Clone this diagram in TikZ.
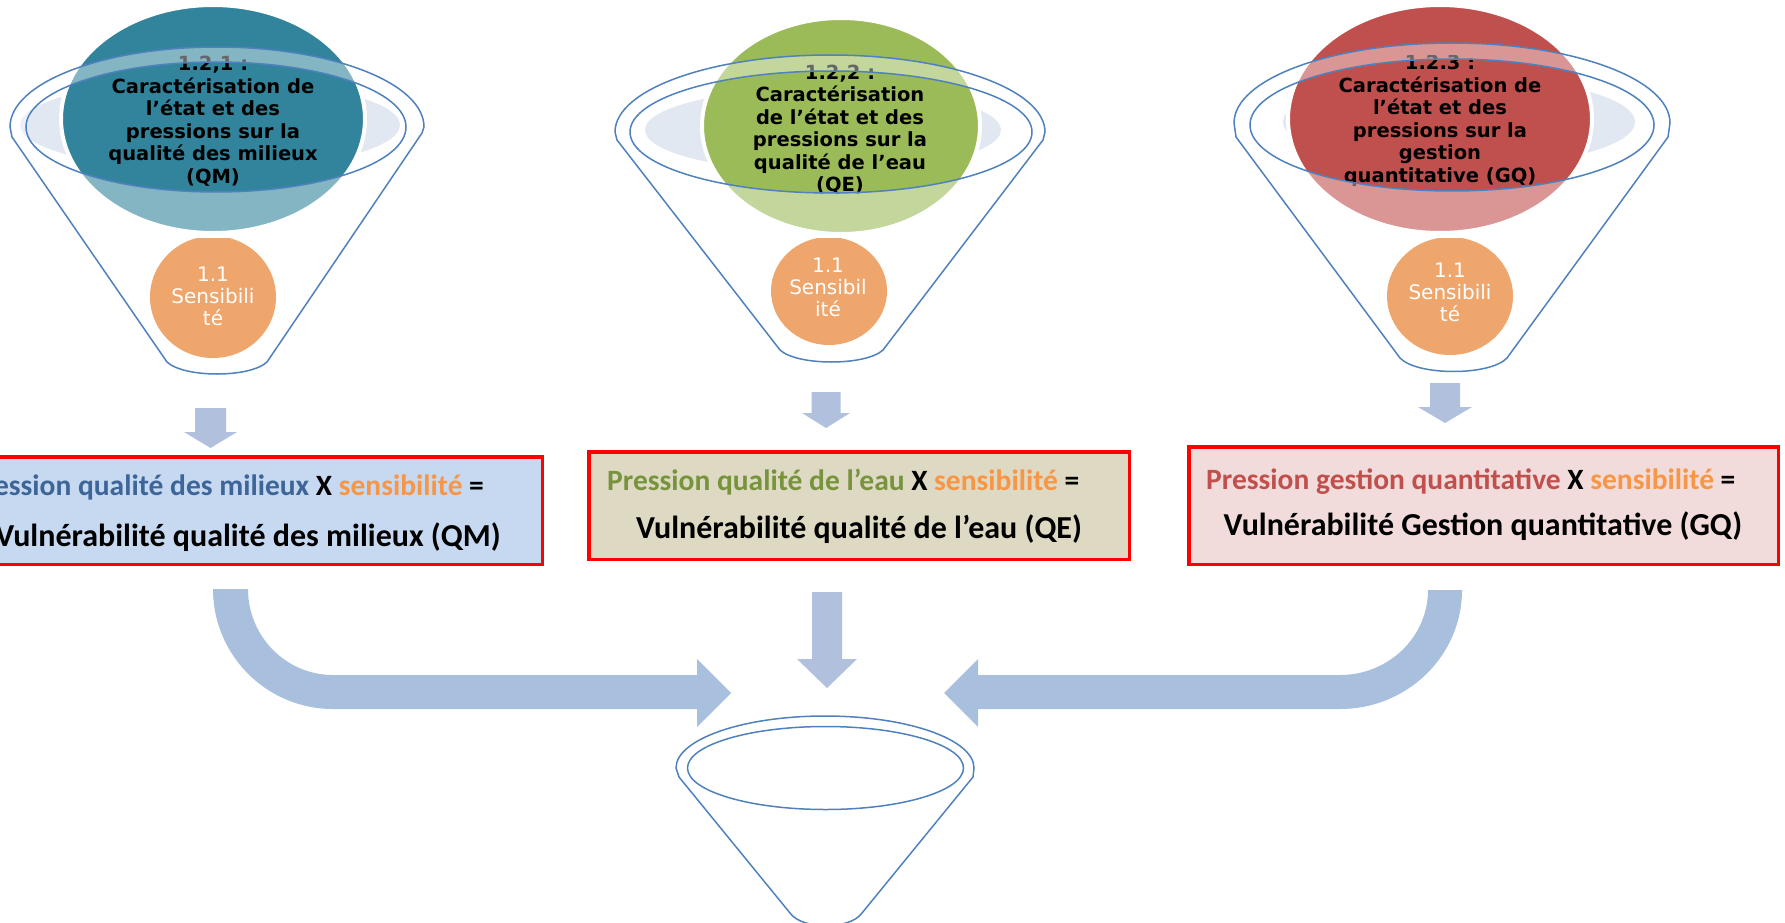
\documentclass[tikz,border=0pt]{standalone}
\usepackage{fontspec}
\newfontfamily\djv{DejaVu Sans}
\newfontfamily\carl{Carlito}
\definecolor{teal1}{HTML}{31849B}
\definecolor{green1}{HTML}{9BBB59}
\definecolor{red1}{HTML}{C0504D}
\definecolor{orng}{HTML}{EEA66C}
\definecolor{rimgrey}{HTML}{E2E8F2}
\definecolor{funblue}{HTML}{4F81BD}
\definecolor{arrA}{HTML}{A8C0DE}
\definecolor{arrB}{HTML}{B1C1DD}
\definecolor{boxA}{HTML}{C6D9F1}
\definecolor{boxB}{HTML}{DDD9C3}
\definecolor{boxC}{HTML}{F2DCDB}
\definecolor{txtA}{HTML}{3D6597}
\definecolor{txtB}{HTML}{77933C}
\definecolor{txtC}{HTML}{C0504D}
\definecolor{sensc}{HTML}{F79646}
\begin{document}
\begin{tikzpicture}[x=1pt,y=-1pt,
  funline/.style={draw=funblue,line width=1.5},
  veil/.style={fill=white,fill opacity=0.4,even odd rule},
  bubble/.style={draw=white,line width=4},
  rim/.style={fill=rimgrey},
  ttl/.style={font=\djv\bfseries\fontsize{19.5}{22.5}\selectfont,align=center,text=black,inner sep=0},
  senstxt/.style={font=\djv\fontsize{20}{22}\selectfont,align=center,text=white,inner sep=0},
  vbox/.style={draw=red,line width=3.5,inner sep=0},
  boxtxt/.style={font=\carl\bfseries\fontsize{29.5}{36}\selectfont,inner sep=0},
  boxtxtb/.style={font=\carl\bfseries\fontsize{32}{38}\selectfont,inner sep=0},
  blockA/.style={fill=arrA},
  blockB/.style={fill=arrB}]
\useasboundingbox (0,0) rectangle (1785,923);
\clip (0,0) rectangle (1785,923);

% ---------- funnel 1 ----------
\fill[rim] (210,125) ellipse[x radius=190,y radius=45];
\fill[teal1,bubble] (213,119) ellipse[x radius=152,y radius=114];
\begin{scope}
\clip (0,56) rectangle (440,240);
\node[ttl] (t1) at (213,121) {1.2,1 :\\Caractérisation de\\l’état et des\\pressions sur la\\qualité des milieux\\(QM)};
\end{scope}
\path[veil] (10,127) arc[start angle=180,end angle=360,x radius=207,y radius=80] -- (422,133) -- (267,362) .. controls (250,378) and (184,378) .. (167,362) -- (12,137) -- cycle (216,127) ellipse[x radius=190,y radius=65];
\begin{scope}
\clip (0,238) rectangle (440,400);
\fill[orng] (213,297) ellipse[x radius=63,y radius=61];
\end{scope}
\node[senstxt] (s1) at (213,296) {1.1\\Sensibili\\té};
\draw[funline] (10,127) arc[start angle=180,end angle=360,x radius=207,y radius=80] -- (422,133) -- (267,362) .. controls (250,378) and (184,378) .. (167,362) -- (12,137) -- cycle;
\draw[funline] (216,127) ellipse[x radius=190,y radius=65];

% ---------- funnel 2 ----------
\fill[rim] (823,130) ellipse[x radius=178,y radius=42];
\fill[green1,bubble] (841,126) ellipse[x radius=139,y radius=108];
\begin{scope}
\clip (600,65) rectangle (1060,240);
\node[ttl] (t2) at (840,129.5) {1.2,2 :\\Caractérisation\\de l’état et des\\pressions sur la\\qualité de l’eau\\(QE)};
\end{scope}
\path[veil] (615,132) arc[start angle=180,end angle=360,x radius=215,y radius=77] -- (1043,140) -- (883,350) .. controls (866,366) and (797,366) .. (780,350) -- (617,140) -- cycle (831,132) ellipse[x radius=201,y radius=61];
\begin{scope}
\clip (600,238) rectangle (1060,400);
\fill[orng] (829,291) ellipse[x radius=58,y radius=54];
\end{scope}
\node[senstxt] (s2) at (828,287) {1.1\\Sensibil\\ité};
\draw[funline] (615,132) arc[start angle=180,end angle=360,x radius=215,y radius=77] -- (1043,140) -- (883,350) .. controls (866,366) and (797,366) .. (780,350) -- (617,140) -- cycle;
\draw[funline] (831,132) ellipse[x radius=201,y radius=61];

% ---------- funnel 3 ----------
\fill[rim] (1459,122) ellipse[x radius=176,y radius=45];
\fill[red1,bubble] (1440,119) ellipse[x radius=152,y radius=114];
\begin{scope}
\clip (1220,56) rectangle (1700,187);
\node[ttl] (t3) at (1440,121) {1.2.3 :\\Caractérisation de\\l’état et des\\pressions sur la\\gestion\\quantitative (GQ)};
\end{scope}
\path[veil] (1234,123) arc[start angle=180,end angle=360,x radius=218,y radius=80] -- (1668,137) -- (1507,358) .. controls (1490,376) and (1417,376) .. (1400,358) -- (1236,137) -- cycle (1452,125) ellipse[x radius=202,y radius=66];
\begin{scope}
\clip (1220,238) rectangle (1700,400);
\fill[orng] (1450,296) ellipse[x radius=63,y radius=59];
\end{scope}
\node[senstxt] (s3) at (1450,292) {1.1\\Sensibili\\té};
\draw[funline] (1234,123) arc[start angle=180,end angle=360,x radius=218,y radius=80] -- (1668,137) -- (1507,358) .. controls (1490,376) and (1417,376) .. (1400,358) -- (1236,137) -- cycle;
\draw[funline] (1452,125) ellipse[x radius=202,y radius=66];

% ---------- small down arrows ----------
\fill[blockB] (195,408) -- (226,408) -- (226,432) -- (237,432) -- (210.5,448) -- (184,432) -- (195,432) -- cycle;
\fill[blockB] (811.5,392) -- (840.5,392) -- (840.5,413) -- (850,413) -- (826,428) -- (802,413) -- (811.5,413) -- cycle;
\fill[blockB] (1430,383) -- (1460,383) -- (1460,407) -- (1472,407) -- (1445,423) -- (1418,407) -- (1430,407) -- cycle;

% ---------- boxes ----------
\node[vbox,fill=boxA,minimum width=585.5,minimum height=107.5] (b1) at (249.5,510.5) {};
\node[vbox,fill=boxB,minimum width=540.5,minimum height=107.5] (b2) at (859,505.5) {};
\node[vbox,fill=boxC,minimum width=589.5,minimum height=117.5] (b3) at (1483.5,505.5) {};

\node[boxtxt,anchor=west] (l1a) at (-32,487) {{\color{txtA}Pression qualité des milieux} X {\color{sensc}sensibilité} =};
\node[boxtxtb] (l1b) at (248,537) {Vulnérabilité qualité des milieux (QM)};
\node[boxtxt,anchor=west] (l2a) at (607,482) {{\color{txtB}Pression qualité de l’eau} X {\color{sensc}sensibilité} =};
\node[boxtxtb] (l2b) at (859,529) {Vulnérabilité qualité de l’eau (QE)};
\node[boxtxt,anchor=west] (l3a) at (1206,482) {{\color{txtC}Pression gestion quantitative} X {\color{sensc}sensibilité} =};
\node[boxtxtb] (l3b) at (1483,526) {Vulnérabilité Gestion quantitative (GQ)};

% ---------- big arrows ----------
\fill[blockA] (213,589) -- (248,589) arc[start angle=180,end angle=90,x radius=85,y radius=86] -- (697,675) -- (697,659) -- (731,693) -- (697,727) -- (697,709) -- (333,709) arc[start angle=90,end angle=180,x radius=120,y radius=120] -- cycle;
\fill[blockA] (1462,590) -- (1428,590) arc[start angle=0,end angle=90,x radius=88,y radius=85] -- (978,675) -- (978,659) -- (944,693) -- (978,727) -- (978,709) -- (1340,709) arc[start angle=90,end angle=0,x radius=122,y radius=119] -- cycle;
\fill[blockB] (812,592) -- (842,592) -- (842,659) -- (857,659) -- (827,688) -- (797,659) -- (812,659) -- cycle;

% ---------- bottom funnel ----------
\draw[funline] (676,768) arc[start angle=180,end angle=360,x radius=149,y radius=52] -- (973,777) -- (862,913) .. controls (850,930) and (802,930) .. (790,913) -- (679,777) -- cycle;
\draw[funline] (825.5,768) ellipse[x radius=138,y radius=41.5];
\end{tikzpicture}
\end{document}
